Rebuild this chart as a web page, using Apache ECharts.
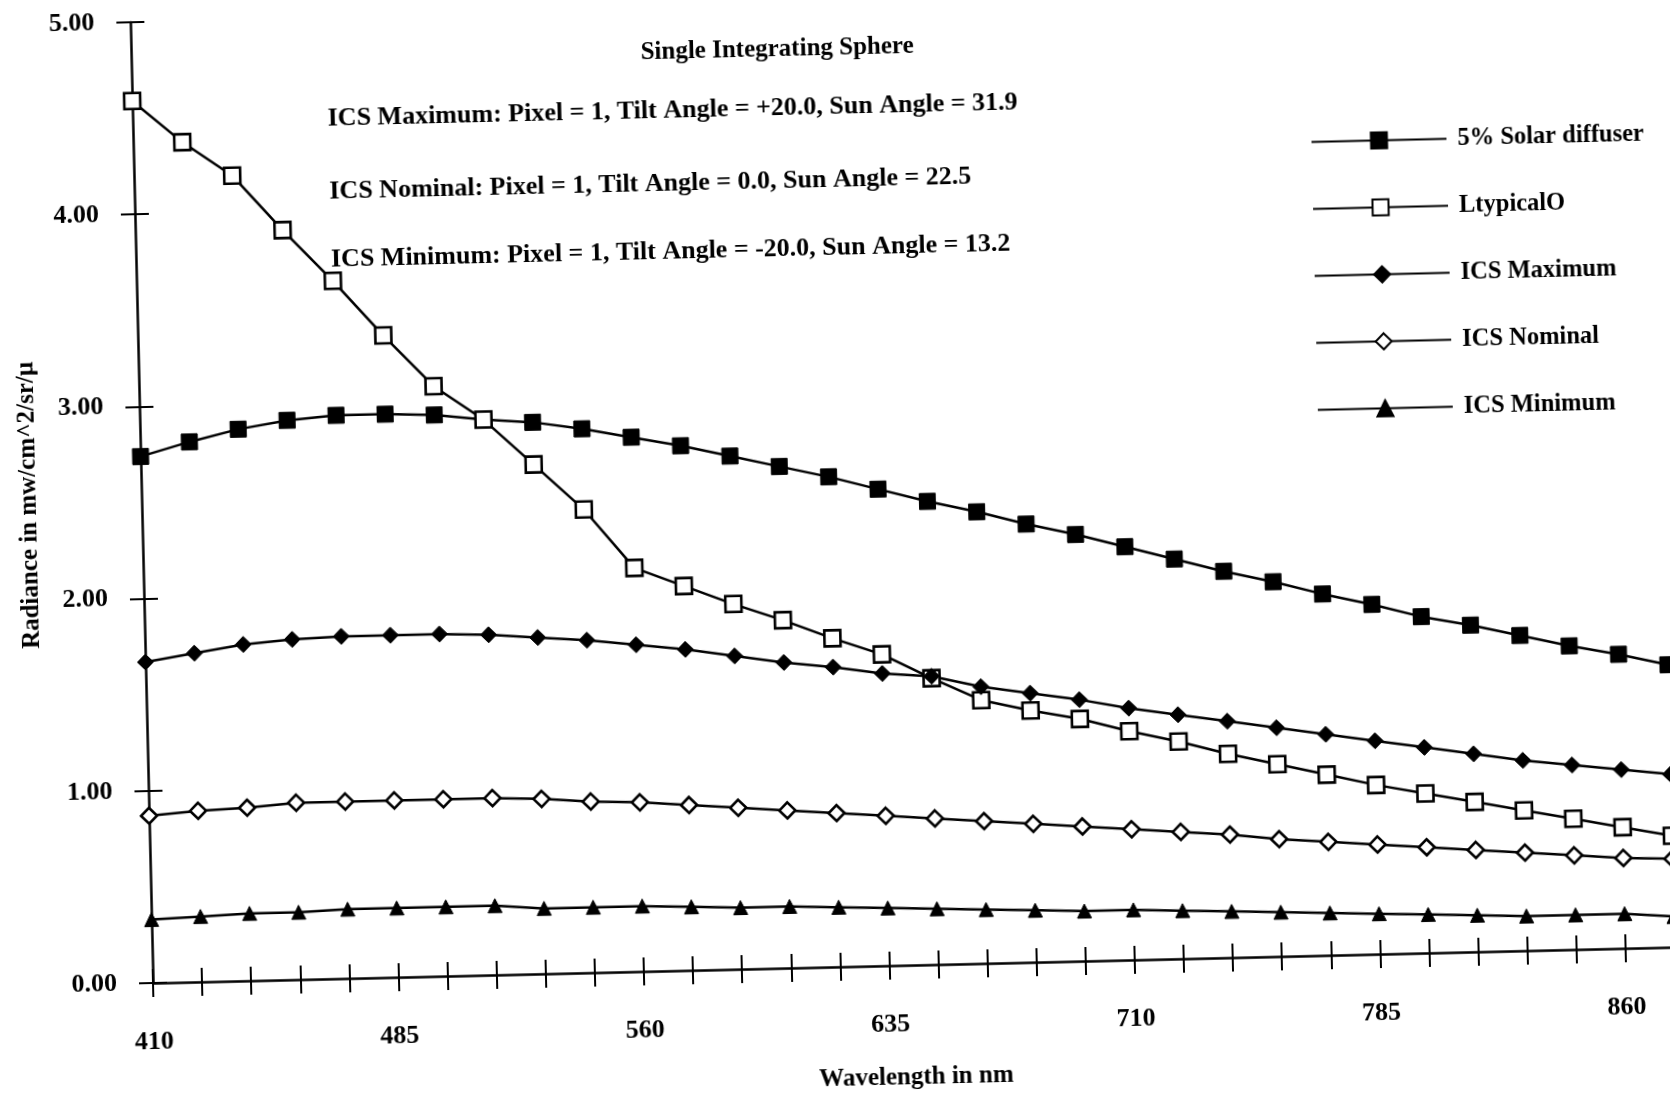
<!DOCTYPE html>
<html>
<head>
<meta charset="utf-8">
<script src="https://cdn.jsdelivr.net/npm/echarts@6/dist/echarts.min.js"></script>
<style>
html,body{margin:0;padding:0;width:1670px;height:1094px;overflow:hidden;background:#fff;}
#chart{position:absolute;left:0;top:0;width:1720px;height:1160px;transform-origin:153px 983px;transform:rotate(-1.35deg);}
</style>
</head>
<body>
<div id="chart"></div>
<script>
// ---- data ----
const wavelengths = ['410','425','440','455','470','485','500','515','530','545','560','575','590','605','620','635','650','665','680','695','710','725','740','755','770','785','800','815','830','845','860','875'];
const solarDiffuser = [2.74,2.81,2.87,2.91,2.93,2.93,2.92,2.89,2.87,2.83,2.78,2.73,2.67,2.61,2.55,2.48,2.41,2.35,2.28,2.22,2.15,2.08,2.01,1.95,1.88,1.82,1.75,1.70,1.64,1.58,1.53,1.47];
const lTypical = [4.59,4.37,4.19,3.90,3.63,3.34,3.07,2.89,2.65,2.41,2.10,2.00,1.90,1.81,1.71,1.62,1.49,1.37,1.31,1.26,1.19,1.13,1.06,1.00,0.94,0.88,0.83,0.78,0.73,0.68,0.63,0.58];
const icsMaximum = [1.67,1.71,1.75,1.77,1.78,1.78,1.78,1.77,1.75,1.73,1.70,1.67,1.63,1.59,1.56,1.52,1.50,1.44,1.40,1.36,1.31,1.27,1.23,1.19,1.15,1.11,1.07,1.03,0.99,0.96,0.93,0.90];
const icsNominal = [0.87,0.89,0.90,0.92,0.92,0.92,0.92,0.92,0.91,0.89,0.88,0.86,0.84,0.82,0.80,0.78,0.76,0.74,0.72,0.70,0.68,0.66,0.64,0.61,0.59,0.57,0.55,0.53,0.51,0.49,0.47,0.46];
const icsMinimum = [0.33,0.34,0.35,0.35,0.36,0.36,0.36,0.36,0.34,0.34,0.34,0.33,0.32,0.32,0.31,0.30,0.29,0.28,0.27,0.26,0.26,0.25,0.24,0.23,0.22,0.21,0.20,0.19,0.18,0.18,0.18,0.16];
const seriesNames = ['5% Solar diffuser','LtypicalO','ICS Maximum','ICS Nominal','ICS Minimum'];
const yTickLabels = ['0.00','1.00','2.00','3.00','4.00','5.00'];
const titleText = 'Single Integrating Sphere';
const noteLines = [
  'ICS Maximum: Pixel = 1, Tilt Angle = +20.0, Sun Angle = 31.9',
  'ICS Nominal: Pixel = 1, Tilt Angle = 0.0, Sun Angle = 22.5',
  'ICS Minimum: Pixel = 1, Tilt Angle = -20.0, Sun Angle = 13.2'
];
const xTitle = 'Wavelength in nm';
const yTitle = 'Radiance in mw/cm^2/sr/\u00b5';

// ---- chart ----
const F = '"Liberation Serif","Times New Roman",serif';
const chart = echarts.init(document.getElementById('chart'), null, {renderer:'canvas'});

function lineSeries(name, data, symbol, filled){
  return {
    name: name, type: 'line', data: data,
    symbol: symbol, symbolSize: symbol === 'triangle' ? 14 : 16,
    showAllSymbol: true,
    lineStyle: {color:'#000', width:2.5},
    itemStyle: filled ? {color:'#000', borderColor:'#000', borderWidth:1}
                      : {color:'#fff', borderColor:'#000', borderWidth:2.6},
    emphasis: {disabled:true},
    animation: false
  };
}

const noteY = [123, 196, 264];
const graphics = [
  {type:'text', x:799, y:65, style:{text:titleText, fill:'#000', font:'bold 25px ' + F, textAlign:'center', textVerticalAlign:'middle', align:'center', verticalAlign:'middle'}}
];
noteLines.forEach(function(t, i){
  graphics.push({type:'text', x:348, y:noteY[i], style:{text:t, fill:'#000', font:'bold 26px ' + F, textAlign:'left', textVerticalAlign:'middle', align:'left', verticalAlign:'middle'}});
});

const axisTxt = {fontFamily:F, fontWeight:'bold', fontSize:26, color:'#000'};

chart.setOption({
  backgroundColor:'#fff',
  animation:false,
  graphic: graphics,
  grid: {left:153, top:22, width:1522, height:961, containLabel:false},
  legend: {
    orient:'vertical', left:1325, top:152,
    itemWidth:135, itemHeight:20, itemGap:42,
    data: seriesNames,
    textStyle: {fontFamily:F, fontWeight:'bold', fontSize:24.5, color:'#000', lineHeight:22, padding:[0,0,0,6]},
    selectedMode:false
  },
  xAxis: [
    {
      type:'category', data:wavelengths, boundaryGap:false, position:'bottom',
      axisLine:{show:true, lineStyle:{color:'#000', width:2.5}},
      axisTick:{show:true, inside:false, length:14, interval:0, lineStyle:{color:'#000', width:2}},
      axisLabel:Object.assign({interval:4, margin:46}, axisTxt),
      splitLine:{show:false},
      name:xTitle, nameLocation:'middle', nameGap:100,
      nameTextStyle:{fontFamily:F, fontWeight:'bold', fontSize:25, color:'#000'}
    },
    {
      type:'category', data:wavelengths, boundaryGap:false, position:'bottom', offset:0,
      axisLine:{show:false},
      axisTick:{show:true, inside:true, length:14, interval:0, lineStyle:{color:'#000', width:2}},
      axisLabel:{show:false}, splitLine:{show:false}
    }
  ],
  yAxis: [
    {
      type:'value', min:0, max:5, interval:1, position:'left',
      axisLine:{show:true, lineStyle:{color:'#000', width:2.5}},
      axisTick:{show:true, inside:false, length:14, lineStyle:{color:'#000', width:2}},
      axisLabel:Object.assign({margin:36, formatter:function(v){ return yTickLabels[Math.round(v)]; }}, axisTxt),
      splitLine:{show:false},
      name:yTitle, nameLocation:'middle', nameGap:100, nameRotate:90,
      nameTextStyle:{fontFamily:F, fontWeight:'bold', fontSize:25, color:'#000'}
    },
    {
      type:'value', min:0, max:5, interval:1, position:'left', offset:0,
      axisLine:{show:false},
      axisTick:{show:true, inside:true, length:14, lineStyle:{color:'#000', width:2}},
      axisLabel:{show:false}, splitLine:{show:false}
    }
  ],
  series: [
    lineSeries(seriesNames[0], solarDiffuser, 'rect', true),
    lineSeries(seriesNames[1], lTypical, 'rect', false),
    lineSeries(seriesNames[2], icsMaximum, 'diamond', true),
    lineSeries(seriesNames[3], icsNominal, 'diamond', false),
    lineSeries(seriesNames[4], icsMinimum, 'triangle', true)
  ]
});
</script>
</body>
</html>
